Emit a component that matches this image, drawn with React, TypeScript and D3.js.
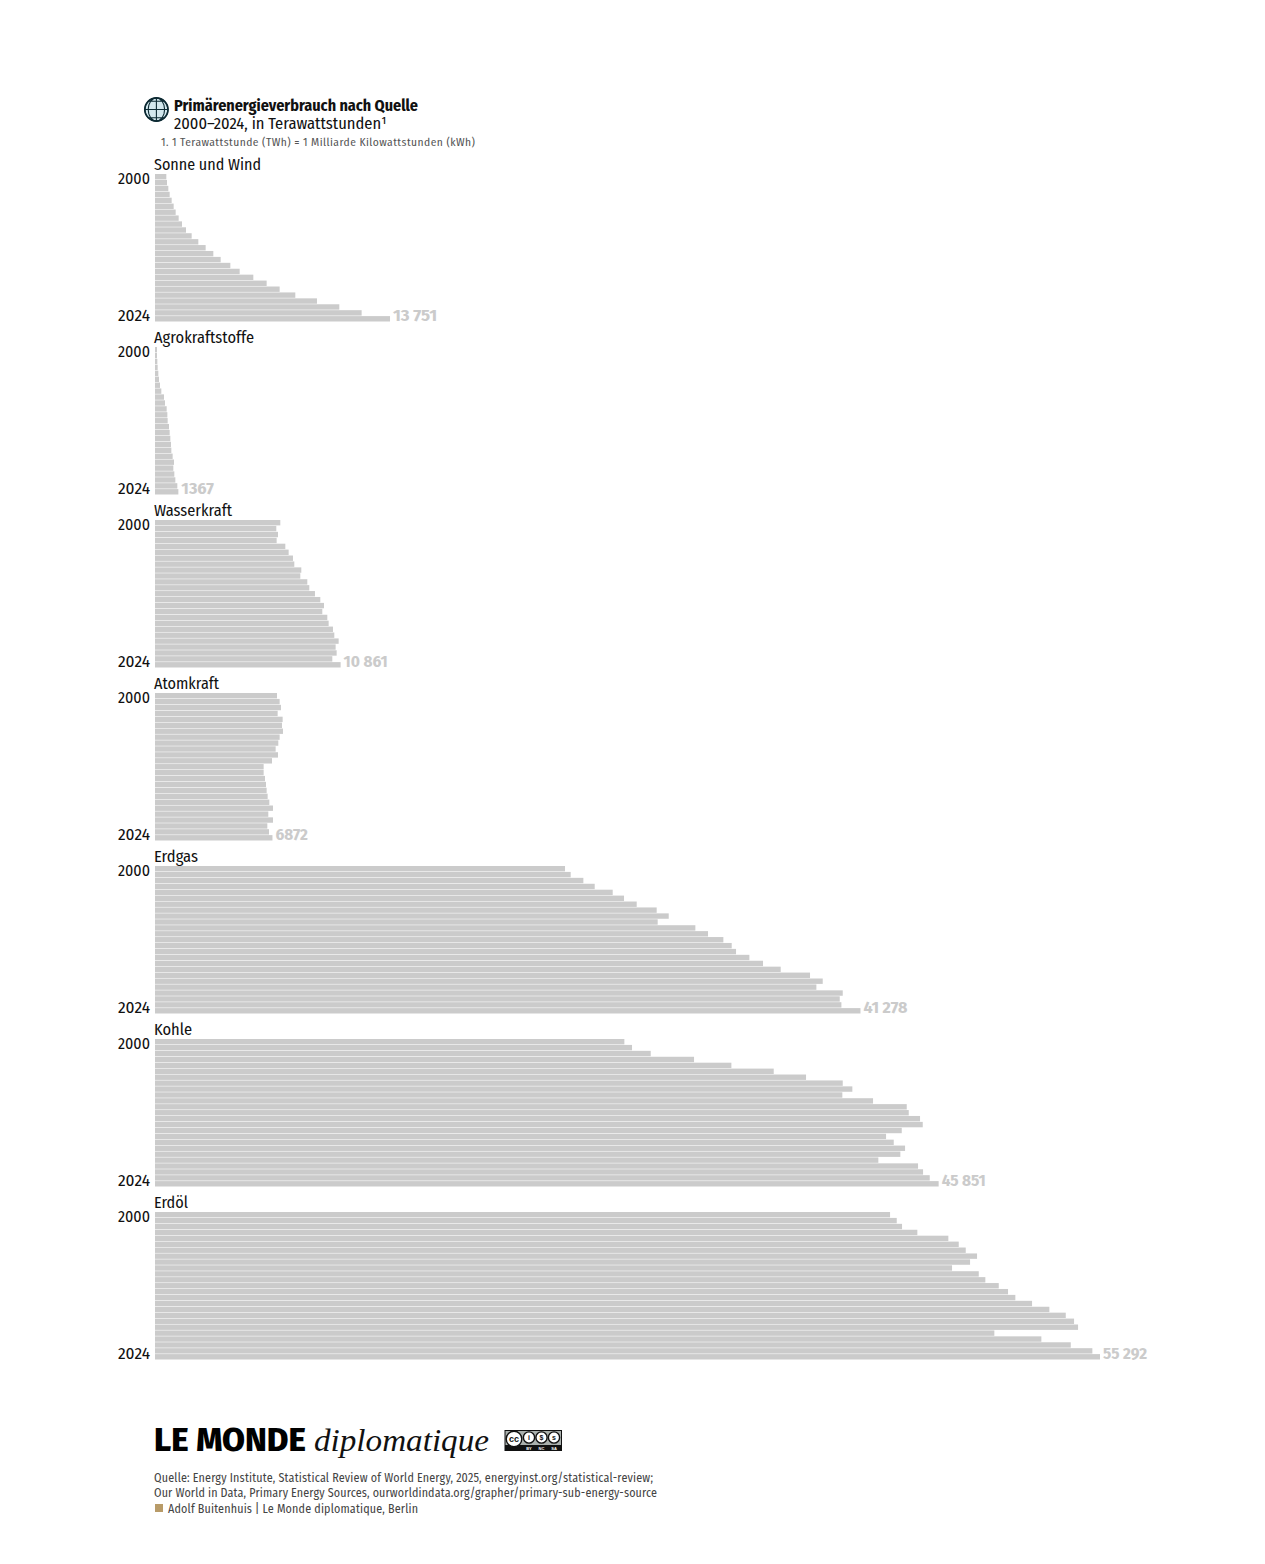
import React from "react";
import * as d3 from "d3";

const width = 1265;
const height = 1564;

const firstYear = 2000;
const lastYear = 2024;
const years = d3.range(firstYear, lastYear + 1);

const sonneWind = [663, 702, 780, 858, 975, 1092, 1209, 1385, 1580, 1814, 2145, 2535, 2964, 3413, 3842, 4408, 4954, 5753, 6533, 7293, 8210, 9477, 10784, 12090, 13751];
const agro = [117, 117, 137, 156, 195, 234, 293, 370, 526, 585, 683, 722, 741, 819, 858, 897, 936, 956, 1033, 1111, 1072, 1131, 1190, 1306, 1367];
const wasser = [7332, 7098, 7196, 7118, 7625, 7820, 8073, 8151, 8561, 8502, 8912, 9029, 9360, 9672, 9887, 9789, 10082, 10160, 10413, 10491, 10745, 10569, 10628, 10374, 10861];
const atom = [7137, 7293, 7371, 7176, 7469, 7430, 7488, 7293, 7215, 7059, 7196, 6845, 6357, 6357, 6435, 6494, 6533, 6591, 6689, 6903, 6630, 6903, 6572, 6669, 6872];
const erdgas = [23990, 24322, 25063, 25727, 26780, 27443, 28185, 29354, 30058, 29412, 31617, 32358, 33255, 33743, 33997, 34777, 35576, 36610, 38326, 39069, 38698, 40240, 40064, 40161, 41278];
const kohle = [27462, 27911, 29005, 31539, 33724, 36202, 38092, 40240, 40802, 40216, 42013, 43985, 44102, 44763, 44921, 43692, 42774, 43224, 43886, 43610, 42323, 44646, 44939, 45330, 45851];
const erdoel = [43008, 43399, 43710, 44605, 46419, 47027, 47437, 48098, 47689, 46635, 48198, 48584, 49368, 49912, 50339, 51317, 52329, 53289, 53774, 54008, 49110, 51861, 53581, 54845, 55292];

const sourceNames = ["Sonne und Wind", "Agrokraftstoffe", "Wasserkraft", "Atomkraft", "Erdgas", "Kohle", "Erdöl"];
const sourceValues = [sonneWind, agro, wasser, atom, erdgas, kohle, erdoel];
const nameWidths = [107, 100, 78, 65, 44, 38, 34];

const ccSymbols = ["cc", "i", "$", "s"];
const ccLabels = ["BY", "NC", "SA"];

const sans = "'Fira Sans Condensed', 'Liberation Sans Narrow', Roboto, sans-serif";

// thin wrapper so every label keeps the width it has in the reference
const T = ({ x, y, w, size, fill = "#111", weight = 400, anchor = "start", family = sans, style, adjust = "spacingAndGlyphs", children }: any) => (
  <text
    x={x}
    y={y}
    textLength={w}
    lengthAdjust={w ? adjust : undefined}
    fontSize={size}
    fontFamily={family}
    fontWeight={weight}
    fontStyle={style}
    fill={fill}
    textAnchor={anchor}
  >
    {children}
  </text>
);

const formatValue = (v: number) => {
  // thin space only for five digit numbers
  if (v < 10000) return String(v);
  const s = String(v);
  return s.slice(0, -3) + "\u2009" + s.slice(-3);
};

const App = () => {
  const x = d3.scaleLinear().domain([0, 55292]).range([155, 1100]);
  const panel = d3.scaleBand<number>().domain(d3.range(sourceNames.length)).range([174, 174 + 173 * 7]);
  const row = d3.scaleBand<number>().domain(years).range([0, 147.5]).paddingInner(0.09).paddingOuter(0);

  const projection = d3.geoOrthographic().scale(11.6).translate([156.4, 109.5]).rotate([0, 0]);
  const geo = d3.geoPath(projection);
  const graticule = d3.geoGraticule().step([45, 45])();

  return (
    <svg width={width} height={height} viewBox={`0 0 ${width} ${height}`} style={{ position: "absolute", left: 0, top: 0, background: "#fff" }}>
      {/* Header */}
      <circle cx={156.4} cy={109.5} r={11.6} fill="#d3e8ee" stroke="#0d2a33" strokeWidth={1.7} />
      <path d={geo(graticule) ?? ""} fill="none" stroke="#0d2a33" strokeWidth={1.1} />
      <T x={174} y={110.5} w={244} size={16} weight={700}>Primärenergieverbrauch nach Quelle</T>
      <T x={174} y={129} w={213} size={16}>2000–2024, in Terawattstunden¹</T>
      <T x={161} y={146} w={314} size={11.5} fill="#555" adjust="spacing">1. 1 Terawattstunde (TWh) = 1 Milliarde Kilowattstunden (kWh)</T>

      {/* Panels */}
      {sourceNames.map((name, i) => {
        const top = panel(i)!;
        const values = sourceValues[i];
        const last = values[values.length - 1];
        return (
          <g key={name}>
            <T x={154} y={top - 4} w={nameWidths[i]} size={16.5}>{name}</T>
            {values.map((v, j) => (
              <rect key={j} x={x(0)} y={top + row(years[j])!} width={x(v) - x(0)} height={row.bandwidth()} fill="#cbcbcb" />
            ))}
            <T x={150} y={top + 10} size={16.5} anchor="end" w={32}>{firstYear}</T>
            <T x={150} y={top + 147} size={16.5} anchor="end" w={32}>{lastYear}</T>
            <T x={x(last) + 3} y={top + 147} w={last < 10000 ? 32.5 : 44} size={16} weight={700} fill="#cbcbcb">{formatValue(last)}</T>
          </g>
        );
      })}

      {/* Footer */}
      <T x={154} y={1451} w={152} size={32} weight={800} fill="#000" family="'Fira Sans', 'Fira Sans Condensed', Roboto, sans-serif">LE MONDE</T>
      <T x={314} y={1451} w={175} size={30.5} family="'Liberation Serif', serif" style="italic" fill="#111">diplomatique</T>
      <g>
        <rect x={504.5} y={1430} width={57.5} height={21} fill="#111" />
        <rect x={505.5} y={1431} width={55.5} height={14} fill="#aab0ad" />
        {[514, 529, 541.5, 554].map((cx, i) => (
          <g key={cx}>
            <circle cx={cx} cy={i === 0 ? 1439 : 1437.5} r={i === 0 ? 7.8 : 5.6} fill="#fff" stroke="#111" strokeWidth={1.4} />
            <text x={cx} y={i === 0 ? 1442 : 1440} fontSize={i === 0 ? 9 : 7} fontWeight={700} fontFamily="'Liberation Sans', sans-serif" textAnchor="middle" fill="#111">
              {ccSymbols[i]}
            </text>
          </g>
        ))}
        {ccLabels.map((t, i) => (
          <text key={t} x={[529, 541.5, 554][i]} y={1449.5} fontSize={4} fontWeight={700} fontFamily="'Liberation Sans', sans-serif" textAnchor="middle" fill="#fff">{t}</text>
        ))}
      </g>
      <T x={154} y={1481.5} w={499} size={12} fill="#444" adjust="spacing">Quelle: Energy Institute, Statistical Review of World Energy, 2025, energyinst.org/statistical-review;</T>
      <T x={154} y={1496.5} w={503} size={12} fill="#444" adjust="spacing">Our World in Data, Primary Energy Sources, ourworldindata.org/grapher/primary-sub-energy-source</T>
      <rect x={155} y={1504} width={8} height={8} fill="#b89b68" />
      <T x={168} y={1512.5} w={250} size={12} fill="#444" adjust="spacing">Adolf Buitenhuis | Le Monde diplomatique, Berlin</T>
    </svg>
  );
};

export default App;
